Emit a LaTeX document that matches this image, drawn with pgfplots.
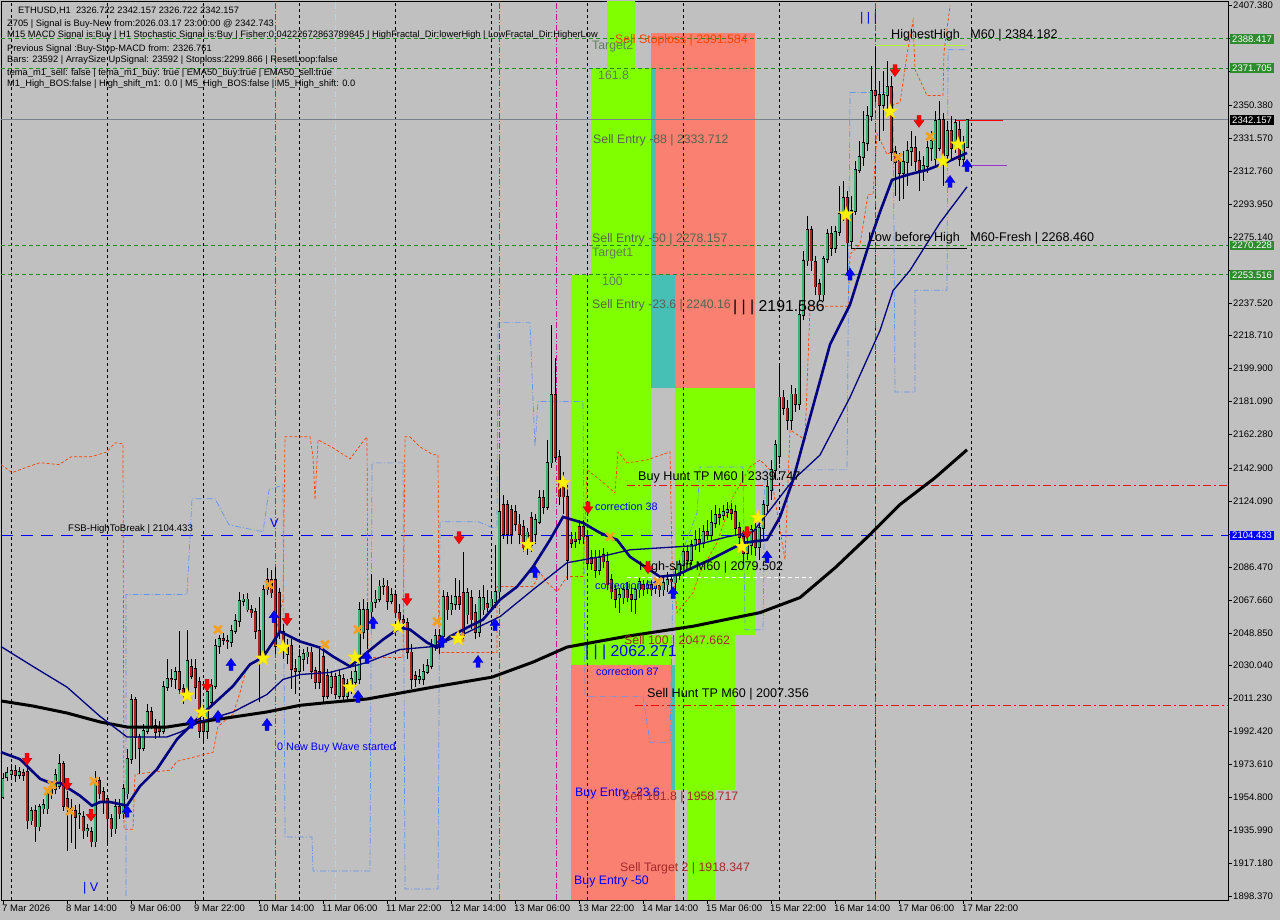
\documentclass[border=0pt]{standalone}
\usepackage{fontspec}
\setmainfont{Liberation Sans}
\usepackage{pgfplots}
\pgfplotsset{compat=1.18}
\usepackage{pgfplotstable}
\usetikzlibrary{plotmarks}

\definecolor{bg}{HTML}{C0C0C0}
\definecolor{lgreen}{HTML}{7FFF00}
\definecolor{salm}{HTML}{FA8072}
\definecolor{tealc}{HTML}{46BFB4}
\definecolor{bull}{HTML}{3CB371}
\definecolor{bear}{HTML}{B22222}
\definecolor{navyc}{HTML}{000080}
\definecolor{dgreen}{HTML}{1E8C1E}
\definecolor{boxgreen}{HTML}{2E8B2E}
\definecolor{orng}{HTML}{FF4500}
\definecolor{cblue}{HTML}{6495ED}
\definecolor{sellbrown}{HTML}{A52A2A}
\definecolor{entryc}{HTML}{55654F}
\definecolor{tgtc}{HTML}{627C5E}
\definecolor{magc}{HTML}{C71585}
\definecolor{purpc}{HTML}{9932CC}
\definecolor{pricegray}{HTML}{7A8290}
\definecolor{crossc}{HTML}{F5A020}
\definecolor{ltcyan}{HTML}{ADD8E6}
\definecolor{ygreen}{HTML}{ADFF2F}

\newcommand{\lab}{\fontsize{9.5}{10}\selectfont}
\newcommand{\fsbfont}{\fontsize{9.6}{11}\selectfont}
\newcommand{\corrfont}{\fontsize{10.8}{12}\selectfont}
\newcommand{\infofont}{\fontsize{9.3}{10}\selectfont}
\newcommand{\midfont}{\fontsize{12.3}{14}\selectfont}
\newcommand{\bigfont}{\fontsize{12.6}{14}\selectfont}
\newcommand{\hugefont}{\fontsize{15.8}{18}\selectfont}

\pgfdeclareplotmark{fstar}{%
 \pgfpathmoveto{\pgfqpoint{0pt}{8pt}}%
 \pgfpathlineto{\pgfqpoint{-1.9pt}{2.6pt}}%
 \pgfpathlineto{\pgfqpoint{-7.6pt}{2.5pt}}%
 \pgfpathlineto{\pgfqpoint{-3.05pt}{-1pt}}%
 \pgfpathlineto{\pgfqpoint{-4.7pt}{-6.5pt}}%
 \pgfpathlineto{\pgfqpoint{0pt}{-3.2pt}}%
 \pgfpathlineto{\pgfqpoint{4.7pt}{-6.5pt}}%
 \pgfpathlineto{\pgfqpoint{3.05pt}{-1pt}}%
 \pgfpathlineto{\pgfqpoint{7.6pt}{2.5pt}}%
 \pgfpathlineto{\pgfqpoint{1.9pt}{2.6pt}}%
 \pgfpathclose\pgfusepathqfillstroke}
\pgfdeclareplotmark{dnarr}{%
 \pgfpathmoveto{\pgfqpoint{-2pt}{6pt}}%
 \pgfpathlineto{\pgfqpoint{2pt}{6pt}}%
 \pgfpathlineto{\pgfqpoint{2pt}{1pt}}%
 \pgfpathlineto{\pgfqpoint{5pt}{1pt}}%
 \pgfpathlineto{\pgfqpoint{0pt}{-6pt}}%
 \pgfpathlineto{\pgfqpoint{-5pt}{1pt}}%
 \pgfpathlineto{\pgfqpoint{-2pt}{1pt}}%
 \pgfpathclose\pgfusepathqfillstroke}
\pgfdeclareplotmark{uparr}{%
 \pgfpathmoveto{\pgfqpoint{-2pt}{-6pt}}%
 \pgfpathlineto{\pgfqpoint{2pt}{-6pt}}%
 \pgfpathlineto{\pgfqpoint{2pt}{-1pt}}%
 \pgfpathlineto{\pgfqpoint{5pt}{-1pt}}%
 \pgfpathlineto{\pgfqpoint{0pt}{6pt}}%
 \pgfpathlineto{\pgfqpoint{-5pt}{-1pt}}%
 \pgfpathlineto{\pgfqpoint{-2pt}{-1pt}}%
 \pgfpathclose\pgfusepathqfillstroke}

\pgfplotstableread{
k o h l c
0 1955.1 1968.8 1954.0 1965.4
1 1966.5 1972.2 1964.3 1968.8
2 1968.2 1974.0 1965.4 1970.0
3 1970.0 1973.4 1963.7 1967.6
4 1967.6 1972.2 1965.4 1969.4
5 1968.8 1971.1 1964.3 1967.6
6 1969.4 1972.2 1936.9 1941.5
7 1941.5 1949.4 1939.2 1947.2
8 1947.2 1950.6 1929.5 1938.0
9 1938.0 1951.2 1935.8 1949.4
10 1948.3 1954.0 1945.5 1950.6
11 1948.3 1959.7 1945.5 1956.9
12 1956.9 1962.0 1954.0 1959.7
13 1959.7 1971.1 1956.9 1967.6
14 1961.4 1979.6 1959.7 1974.0
15 1974.0 1975.7 1947.2 1950.0
16 1954.0 1958.6 1924.3 1948.3
17 1948.3 1954.0 1928.4 1947.2
18 1947.2 1950.6 1925.5 1943.7
19 1944.9 1951.2 1936.9 1945.5
20 1943.7 1947.2 1931.2 1935.8
21 1935.8 1939.8 1932.3 1936.9
22 1935.2 1938.0 1926.6 1929.5
23 1929.5 1970.0 1926.6 1964.3
24 1964.3 1966.5 1954.0 1956.9
25 1958.0 1960.8 1945.5 1952.3
26 1954.0 1956.3 1928.4 1942.6
27 1942.6 1945.5 1932.3 1936.9
28 1936.9 1954.0 1934.1 1949.4
29 1949.4 1954.0 1942.6 1945.5
30 1945.5 1962.6 1942.6 1959.7
31 1956.9 1982.5 1954.0 1976.8
32 1976.8 2013.9 1974.0 2010.4
33 2010.4 2012.1 1976.8 1989.3
34 1989.3 1991.0 1968.2 1983.1
35 1983.1 1996.8 1981.4 1992.8
36 1992.8 2008.2 1991.0 2003.6
37 2003.6 2006.4 1993.9 1995.6
38 1995.6 1999.6 1988.2 1992.2
39 1995.0 1998.5 1989.3 1992.8
40 1992.8 2021.3 1991.0 2017.8
41 2017.8 2033.8 2015.6 2022.4
42 2022.4 2028.1 2017.8 2022.1
43 2022.4 2029.2 2016.7 2026.4
44 2026.4 2050.0 2013.9 2016.7
45 2016.7 2019.6 2008.2 2013.9
46 2015.6 2050.6 2011.0 2032.7
47 2029.2 2033.8 2022.4 2024.1
48 2028.1 2033.8 2011.0 2017.8
49 2020.7 2023.5 1988.8 1992.8
50 1997.9 2000.7 1985.4 1992.8
51 1992.8 2016.7 1988.2 2015.0
52 2009.3 2022.4 2006.4 2018.4
53 2018.4 2045.2 2016.7 2041.2
54 2041.2 2047.5 2036.6 2045.2
55 2045.2 2048.6 2041.8 2044.6
56 2044.1 2047.5 2039.5 2043.8
57 2043.5 2053.2 2040.7 2049.8
58 2049.8 2059.5 2048.1 2055.5
59 2055.5 2071.9 2052.1 2066.9
60 2066.9 2070.9 2064.0 2068.0
61 2062.1 2071.4 2061.0 2068.0
62 2062.1 2065.0 2057.6 2060.4
63 2061.0 2063.2 2045.2 2049.8
64 2049.8 2069.5 2009.3 2035.3
65 2035.3 2076.4 2033.6 2073.5
66 2073.5 2086.0 2070.7 2079.2
67 2079.2 2084.9 2069.0 2071.8
68 2079.2 2086.6 2036.6 2041.2
69 2071.8 2074.6 2045.2 2049.2
70 2049.2 2053.8 2033.6 2039.5
71 2036.6 2045.2 2030.8 2041.2
72 2041.2 2045.2 2016.7 2028.1
73 2028.1 2033.8 2013.9 2026.9
74 2026.9 2039.5 2022.4 2035.3
75 2033.8 2039.5 2026.9 2036.6
76 2035.3 2040.7 2030.8 2037.6
77 2037.6 2040.7 2022.4 2026.9
78 2026.9 2029.2 2016.7 2020.7
79 2026.4 2039.5 2016.7 2020.7
80 2035.3 2038.4 2008.2 2012.5
81 2024.1 2028.1 2011.0 2012.5
82 2017.8 2026.9 2013.9 2023.5
83 2023.5 2025.8 2011.0 2013.9
84 2012.5 2028.1 2011.0 2024.1
85 2022.4 2025.2 2009.9 2012.5
86 2012.5 2022.4 2011.0 2019.6
87 2019.6 2026.9 2013.9 2022.4
88 2020.7 2030.8 2017.8 2026.4
89 2022.4 2066.3 2019.6 2062.1
90 2049.2 2068.0 2045.2 2062.1
91 2062.1 2066.3 2039.5 2050.9
92 2061.0 2082.3 2057.6 2066.3
93 2066.3 2073.5 2063.2 2068.0
94 2068.0 2079.2 2066.3 2075.4
95 2075.4 2080.3 2070.7 2076.0
96 2075.4 2079.2 2062.1 2066.9
97 2066.9 2074.6 2065.2 2070.7
98 2070.7 2073.5 2057.6 2060.4
99 2060.4 2065.2 2052.1 2056.4
100 2056.4 2059.3 2050.9 2054.7
101 2054.7 2057.6 2033.6 2037.6
102 2037.6 2042.4 2016.7 2022.4
103 2024.1 2026.9 2017.8 2022.4
104 2022.4 2028.1 2019.6 2023.5
105 2022.4 2030.8 2019.0 2026.4
106 2026.4 2033.8 2025.2 2029.8
107 2029.8 2045.2 2028.1 2040.7
108 2040.7 2050.9 2038.4 2046.9
109 2046.9 2050.9 2036.6 2040.7
110 2046.9 2073.5 2044.1 2069.5
111 2069.5 2072.4 2056.4 2062.1
112 2062.1 2070.7 2059.3 2065.2
113 2065.2 2080.3 2062.1 2069.5
114 2069.5 2079.2 2062.1 2065.2
115 2071.8 2095.2 2044.1 2046.9
116 2059.3 2074.6 2053.8 2071.8
117 2069.0 2073.5 2050.9 2056.4
118 2060.4 2065.2 2045.2 2049.2
119 2049.2 2073.5 2046.3 2069.0
120 2062.1 2076.4 2059.3 2069.0
121 2065.2 2073.5 2061.0 2063.2
122 2063.8 2072.4 2061.0 2068.0
123 2066.3 2099.2 2063.2 2072.4
124 2072.4 2147.8 2069.0 2118.2
125 2122.2 2127.9 2102.2 2105.1
126 2122.2 2125.0 2099.4 2105.1
127 2119.3 2122.2 2099.4 2105.1
128 2118.2 2122.2 2106.8 2110.8
129 2110.8 2116.5 2099.4 2105.1
130 2109.6 2113.6 2095.2 2097.6
131 2098.1 2109.0 2093.5 2106.2
132 2114.7 2118.2 2095.2 2099.2
133 2105.1 2116.5 2099.4 2113.6
134 2112.3 2130.5 2110.8 2126.1
135 2126.1 2130.5 2116.5 2120.5
136 2120.5 2159.0 2119.3 2146.1
137 2146.1 2224.6 2143.0 2184.7
138 2184.7 2205.7 2146.7 2149.5
139 2149.5 2153.3 2122.2 2126.7
140 2136.2 2140.8 2116.5 2126.7
141 2126.7 2133.4 2079.2 2090.6
142 2102.2 2106.6 2097.6 2100.3
143 2102.2 2106.6 2097.6 2101.5
144 2109.6 2113.6 2099.4 2102.2
145 2109.6 2113.6 2099.4 2103.9
146 2103.9 2107.7 2084.9 2088.9
147 2091.7 2096.3 2084.9 2088.9
148 2091.7 2096.3 2080.3 2084.9
149 2084.9 2096.3 2082.0 2091.7
150 2093.5 2097.4 2086.0 2089.5
151 2089.5 2095.2 2073.5 2076.4
152 2079.2 2082.3 2068.0 2072.4
153 2073.5 2076.4 2063.2 2068.0
154 2069.0 2074.6 2060.4 2070.7
155 2069.0 2076.4 2065.2 2073.5
156 2073.5 2078.1 2066.3 2069.0
157 2070.7 2074.6 2061.0 2068.0
158 2068.0 2076.4 2059.8 2073.5
159 2073.5 2080.3 2069.0 2078.1
160 2076.4 2079.2 2070.1 2073.5
161 2074.6 2079.2 2071.2 2076.4
162 2076.4 2079.2 2070.1 2073.5
163 2074.6 2079.2 2071.2 2075.8
164 2075.8 2079.2 2069.5 2073.5
165 2073.5 2081.5 2070.1 2077.5
166 2076.4 2083.8 2072.4 2079.2
167 2079.2 2082.6 2073.5 2078.1
168 2077.5 2086.0 2070.7 2082.0
169 2082.0 2090.6 2079.2 2087.7
170 2087.7 2097.4 2084.9 2095.2
171 2095.2 2099.2 2087.7 2090.6
172 2090.6 2102.0 2087.7 2099.2
173 2099.2 2107.7 2096.3 2102.0
174 2102.0 2108.8 2095.2 2100.3
175 2100.3 2110.6 2097.6 2106.6
176 2106.6 2113.4 2102.0 2104.9
177 2104.9 2119.1 2102.0 2111.7
178 2111.7 2122.0 2108.8 2116.3
179 2116.3 2120.2 2110.6 2115.1
180 2116.3 2122.0 2113.4 2118.0
181 2118.0 2123.7 2114.6 2119.1
182 2119.1 2123.1 2113.4 2117.4
183 2118.0 2122.0 2104.9 2108.8
184 2108.8 2112.3 2097.6 2103.7
185 2103.7 2107.7 2087.7 2094.6
186 2094.6 2103.1 2090.6 2099.2
187 2099.2 2110.6 2093.5 2107.7
188 2107.7 2113.4 2092.9 2098.0
189 2098.0 2113.4 2090.6 2108.8
190 2108.8 2124.8 2102.0 2121.9
191 2121.9 2136.2 2117.9 2132.2
192 2130.5 2147.6 2124.8 2141.9
193 2141.9 2159.0 2136.2 2156.2
194 2150.0 2201.8 2145.3 2183.5
195 2183.5 2187.5 2173.2 2177.2
196 2177.2 2181.8 2164.7 2170.4
197 2170.4 2190.4 2164.7 2185.2
198 2185.2 2188.6 2175.0 2179.5
199 2179.5 2236.1 2176.1 2230.4
200 2230.4 2267.3 2227.6 2261.6
201 2261.6 2287.2 2258.8 2279.3
202 2279.3 2281.5 2255.9 2261.6
203 2261.1 2264.5 2241.7 2246.8
204 2248.5 2251.3 2238.8 2242.2
205 2242.2 2264.5 2238.8 2262.7
206 2262.7 2279.8 2260.5 2277.0
207 2277.0 2281.5 2264.5 2269.0
208 2269.0 2281.5 2266.2 2278.1
209 2278.1 2304.4 2275.9 2288.4
210 2288.4 2307.2 2284.4 2297.5
211 2297.5 2301.5 2253.1 2271.9
212 2273.0 2298.6 2268.4 2290.1
213 2290.1 2318.6 2288.0 2313.5
214 2313.5 2330.0 2311.8 2320.9
215 2320.9 2347.1 2315.7 2328.9
216 2328.9 2350.0 2324.3 2344.3
217 2344.3 2372.8 2341.4 2358.5
218 2358.5 2384.2 2352.8 2356.2
219 2356.2 2364.2 2330.0 2350.5
220 2350.5 2369.9 2335.7 2356.2
221 2356.2 2375.6 2347.1 2360.8
222 2360.8 2367.0 2318.6 2323.7
223 2323.7 2327.2 2298.7 2318.0
224 2318.6 2323.2 2295.8 2311.8
225 2311.8 2324.3 2296.9 2318.0
226 2318.0 2330.0 2304.4 2324.3
227 2324.3 2335.7 2315.7 2326.0
228 2326.0 2332.9 2312.9 2318.6
229 2318.6 2324.3 2301.5 2313.5
230 2313.5 2321.4 2307.2 2315.7
231 2315.7 2330.0 2311.8 2326.0
232 2326.0 2335.7 2318.6 2330.0
233 2319.7 2347.1 2315.7 2341.4
234 2326.0 2352.8 2324.3 2342.0
235 2342.0 2346.0 2304.4 2322.0
236 2322.0 2341.4 2318.6 2335.7
237 2335.7 2344.3 2318.6 2326.0
238 2326.0 2342.5 2323.2 2340.3
239 2336.3 2341.4 2315.7 2319.7
240 2319.7 2332.9 2315.7 2328.9
241 2326.7 2342.2 2326.7 2342.2
}\candles

\begin{document}
\begin{tikzpicture}
\useasboundingbox (0,0) rectangle (1280pt,920pt);
\fill[bg] (0,0) rectangle (1280pt,920pt);
\begin{axis}[
  at={(1pt,20pt)}, anchor=south west, scale only axis,
  width=1227pt, height=899pt,
  xmin=-0.5, xmax=306.25, ymin=1896.1, ymax=2410.07,
  clip=false,
  axis background/.style={fill=bg},
  axis line style={black, line width=0.8pt},
  tick align=outside, major tick length=4pt,
  tick style={black, line width=0.6pt},
  xtick pos=left, xticklabel pos=left,
  ytick pos=right, yticklabel pos=right,
  xtick={0,16,32,48,64,80,96,112,128,144,160,176,192,208,224,240},
  xticklabels={7 Mar 2026,8 Mar 14:00,9 Mar 06:00,9 Mar 22:00,10 Mar 14:00,11 Mar 06:00,11 Mar 22:00,12 Mar 14:00,13 Mar 06:00,13 Mar 22:00,14 Mar 14:00,15 Mar 06:00,15 Mar 22:00,16 Mar 14:00,17 Mar 06:00,17 Mar 22:00},
  xticklabel style={font=\lab, anchor=north west, xshift=-1pt, inner xsep=0pt, inner ysep=1pt},
  ytick={2407.38,2388.57,2369.76,2350.38,2331.57,2312.76,2293.95,2275.14,2256.33,2237.52,2218.71,2199.90,2181.09,2162.28,2142.90,2124.09,2105.28,2086.47,2067.66,2048.85,2030.04,2011.23,1992.42,1973.61,1954.80,1935.99,1917.18,1898.37},
  yticklabels={2407.380,,,2350.380,2331.570,2312.760,2293.950,2275.140,,2237.520,2218.710,2199.900,2181.090,2162.280,2142.900,2124.090,,2086.470,2067.660,2048.850,2030.040,2011.230,1992.420,1973.610,1954.800,1935.990,1917.180,1898.370},
  yticklabel style={font=\lab, anchor=west, xshift=0pt, inner xsep=1pt},
]
% zones
\addplot[fill=lgreen, draw=none, forget plot] coordinates {(151,2410.07)(158,2410.07)(158,2371.705)(151,2371.705)};
\addplot[fill=lgreen, draw=none, forget plot] coordinates {(147,2371.705)(162,2371.705)(162,2253.516)(147,2253.516)};
\addplot[fill=lgreen, draw=none, forget plot] coordinates {(142,2253.516)(162,2253.516)(162,2047.662)(142,2047.662)};
\addplot[fill=lgreen, draw=none, forget plot] coordinates {(142,2047.662)(167,2047.662)(167,2030.3)(142,2030.3)};
\addplot[fill=salm, draw=none, forget plot] coordinates {(162,2391.584)(188,2391.584)(188,2371.705)(162,2371.705)};
\addplot[fill=salm, draw=none, forget plot] coordinates {(163.25,2371.705)(188,2371.705)(188,2253.516)(163.25,2253.516)};
\addplot[fill=tealc, draw=none, forget plot] coordinates {(162,2371.705)(163.25,2371.705)(163.25,2253.516)(162,2253.516)};
\addplot[fill=tealc, draw=none, forget plot] coordinates {(162,2253.516)(168,2253.516)(168,2188.8)(162,2188.8)};
\addplot[fill=salm, draw=none, forget plot] coordinates {(168,2253.516)(188,2253.516)(188,2188.8)(168,2188.8)};
\addplot[fill=lgreen, draw=none, forget plot] coordinates {(168,2188.8)(188,2188.8)(188,2047.662)(168,2047.662)};
\addplot[fill=lgreen, draw=none, forget plot] coordinates {(168,2047.662)(183,2047.662)(183,1958.717)(168,1958.717)};
\addplot[fill=tealc, draw=none, forget plot] coordinates {(167,2030.3)(168,2030.3)(168,1958.717)(167,1958.717)};
\addplot[fill=lgreen, draw=none, forget plot] coordinates {(171,1958.717)(178,1958.717)(178,1896.1)(171,1896.1)};
\addplot[fill=salm, draw=none, forget plot] coordinates {(142,2030.3)(167,2030.3)(167,1958.717)(142,1958.717)};
\addplot[fill=salm, draw=none, forget plot] coordinates {(142,1958.717)(168,1958.717)(168,1896.1)(142,1896.1)};

% vertical separators
\pgfplotsinvokeforeach{2,26,50,74,98,122,146,170,194,218,242}{
  \addplot[black, line width=0.7pt, dash pattern=on 3pt off 3pt, forget plot] coordinates {(#1,1896.1)(#1,2410.07)};
}
\pgfplotsinvokeforeach{68,124,138.25,218}{
  \addplot[magc, line width=0.7pt, dash pattern=on 6pt off 2pt on 1pt off 2pt, forget plot] coordinates {(#1,1896.1)(#1,2410.07)};
}
\addplot[ltcyan, line width=0.7pt, dash pattern=on 6pt off 2pt on 1pt off 2pt, forget plot] coordinates {(83,1896.1)(83,2410.07)};

% horizontal levels
\pgfplotsinvokeforeach{2388.417,2371.705,2270.228,2253.516}{
  \addplot[dgreen, line width=0.8pt, dash pattern=on 4pt off 3pt, forget plot] coordinates {(-0.5,#1)(306.25,#1)};
}
\addplot[pricegray, line width=0.8pt, forget plot] coordinates {(-0.5,2342.157)(306.25,2342.157)};
\addplot[blue, line width=1pt, dash pattern=on 12pt off 8pt, forget plot] coordinates {(-0.5,2104.433)(306.25,2104.433)};
\addplot[red, line width=0.8pt, dash pattern=on 8pt off 3pt on 2pt off 3pt, forget plot] coordinates {(156,2132.9)(306.25,2132.9)};
\addplot[red, line width=0.8pt, dash pattern=on 8pt off 3pt on 2pt off 3pt, forget plot] coordinates {(158,2007.356)(306.25,2007.356)};
\addplot[white, line width=0.8pt, dash pattern=on 4pt off 3pt, forget plot] coordinates {(156,2080.4)(202.25,2080.4)};
\addplot[black, line width=0.8pt, forget plot] coordinates {(212,2268.46)(241,2268.46)};
\addplot[ygreen, line width=0.8pt, forget plot] coordinates {(218,2384.5)(241,2384.5)};
\addplot[red, line width=0.8pt, forget plot] coordinates {(238,2341.8)(250,2341.8)};
\addplot[purpc, line width=0.8pt, forget plot] coordinates {(239.75,2316.1)(251,2316.1)};

% orange dashed trailing line
\addplot[orng, line width=0.7pt, dash pattern=on 3pt off 2pt, forget plot] coordinates {
(-0.5,2145.0)(2.25,2140.4)(6.25,2143.8)(9.25,2146.1)(14,2145.0)(17,2149.5)(22,2149.5)(26,2152.3)(28,2157.5)(30,2156.9)
(30.25,1936.6)(32.5,1936.6)(33,1968.0)(41.75,1970.3)(43.5,1975.4)(52.5,1980.5)(53.75,1995.4)(57.5,2002.2)(59.25,2014.8)
(61,2029.6)(62.5,2030.8)(67.5,2042.2)(70,2067.8)(70.5,2160.9)(76.75,2160.9)(77.5,2149.5)(78,2124.9)(78.75,2159.2)
(82.5,2154.6)(86.75,2148.3)(89.75,2157.4)(91,2160.9)(91.25,2034.7)(100,2034.7)(100.5,2160.9)(101.75,2160.9)
(104.25,2155.2)(107.5,2150.6)(108.75,2150.6)(109,2037.6)(123.5,2037.6)(123.5,2075.3)(132.5,2075.3)(134.25,2083.3)
(136,2077.6)(138.5,2072.4)(141,2081.0)(145,2081.0)(146,2142.0)(149.25,2136.3)(153,2128.9)(153.75,2152.3)(156,2146.0)
(161,2147.7)(166.75,2152.3)(167.25,2090.7)(168.5,2060.4)(172.5,2071.8)(174.25,2083.3)(178.5,2100.4)(182.5,2126.6)
(186.75,2143.7)(189.25,2147.7)(191.75,2142.0)(193,2124.9)(195.5,2090.7)(196.75,2164.9)(200.5,2159.2)(201.75,2235.6)
(211.25,2235.6)(211.75,2265.3)(214.25,2270.9)(216.25,2299.5)(217.5,2299.5)(218.5,2334.3)(221,2322.3)(222.25,2324.1)
(222.5,2350.9)(224.25,2352.0)(226,2379.4)(227.5,2398.8)(228,2370.9)(231,2356.0)(235,2356.0)(235.25,2381.1)(236.75,2407.4)
};
% blue dash-dot trailing line
\addplot[cblue, line width=0.7pt, dash pattern=on 6pt off 2pt on 1pt off 2pt, forget plot] coordinates {
(30.75,1898.4)(30.75,2070.7)(46,2070.7)(47.25,2125.5)(53,2125.5)(56.5,2110.6)(65,2106.6)(66.5,2130.6)(70,2133.4)
(70.5,1932.1)(77.25,1932.1)(77.5,1912.7)(91.75,1912.7)(92.25,2146.0)(100,2146.0)(100.5,1902.4)(108.75,1902.4)
(109.25,2112.4)(118.75,2112.4)(122.25,2109.1)(123.5,2109.1)(123.75,2226.2)(131.75,2226.2)(132.5,2182.2)(133,2155.4)
(133.75,2181.1)(145,2181.1)(145.5,2012.5)(160,2012.5)(161.75,1986.3)(166.75,1986.3)(167.5,2080.9)(173.5,2117.4)
(174.25,2143.7)(185,2143.7)(185.5,2050.6)(190,2050.6)(190.5,2142.0)(211,2142.0)(211.75,2357.7)(222.5,2357.7)
(223,2186.5)(228,2186.5)(228,2244.7)(236,2244.7)(236.25,2382.2)(241,2382.2)
};

% candles
\addplot[black, line width=0.8pt, mark=none, forget plot, quiver={u=0, v=\thisrow{h}-\thisrow{l}}] table[x=k, y=l] {\candles};
\addplot[black, line width=3pt, mark=none, forget plot, quiver={u=0, v={abs(\thisrow{c}-\thisrow{o})+0.9}}] table[x=k, y expr={min(\thisrow{o},\thisrow{c})-0.45}] {\candles};
\addplot[bull, line width=1.8pt, mark=none, forget plot, quiver={u=0, v={max(\thisrow{c}-\thisrow{o},0)}}] table[x=k, y=o] {\candles};
\addplot[bear, line width=1.8pt, mark=none, forget plot, quiver={u=0, v={max(\thisrow{o}-\thisrow{c},0)}}] table[x=k, y=c] {\candles};

% moving averages
\addplot[black, line width=3pt, mark=none, forget plot] coordinates {
(-0.5,2009.9)(7.5,2007.0)(16,2003.0)(24.25,1997.9)(31,1995.0)(41,1995.0)(49.25,1997.9)(57.5,2000.7)(66,2003.6)
(74.25,2007.4)(81.75,2009.1)(91,2011.0)(107.5,2017.8)(122.25,2023.5)(132.5,2032.1)(141,2040.7)(156,2046.9)
(172.5,2052.6)(189.25,2060.4)(199.25,2069.0)(208,2086.0)(216.75,2105.0)(224.25,2122.2)(233,2137.5)(241,2153.5)};
\addplot[navyc, line width=1.3pt, mark=none, forget plot] coordinates {
(-0.5,2041.0)(7.5,2029.6)(16,2017.8)(24.25,2001.1)(31,1989.3)(41,1989.3)(44.25,1992.0)(49.25,1997.9)(57.5,2003.6)
(66,2013.6)(70,2022.2)(74.25,2025.0)(81.75,2026.2)(91,2031.9)(99.25,2039.3)(107.5,2041.0)(116,2049.0)(124.25,2058.1)
(132.5,2073.5)(141,2088.9)(149.25,2092.3)(156.75,2096.3)(172.5,2098.6)(181,2103.7)(187.5,2106.6)(191.75,2119.1)
(197.5,2136.2)(204.25,2150.5)(211.75,2183.5)(219.25,2221.7)(222.5,2244.5)(226.75,2256.1)(234.25,2283.3)(241,2303.8)};
\addplot[navyc, line width=2.6pt, mark=none, forget plot] coordinates {
(-0.5,1980.6)(4.25,1976.6)(9.25,1965.4)(11.75,1963.1)(14.25,1963.1)(19.25,1955.7)(22.25,1950.0)(24.25,1952.1)
(26.75,1952.1)(31,1950.0)(34.25,1961.2)(38.5,1970.9)(43.5,1988.0)(49.25,2001.1)(57.5,2018.4)(61.75,2030.8)(65,2034.9)
(69.25,2049.6)(74.25,2043.9)(79.25,2040.4)(82.5,2035.3)(86.75,2029.6)(91,2037.6)(95,2045.0)(99.25,2051.8)(101.75,2050.7)
(106,2043.3)(108.5,2040.4)(111.75,2046.7)(116,2051.8)(120,2056.4)(124.25,2067.8)(128.5,2075.2)(132.5,2086.6)
(136.75,2102.0)(140,2115.1)(145,2111.7)(149.25,2106.0)(153.5,2102.0)(156.75,2092.3)(164.25,2080.9)(168.5,2082.0)
(176.75,2090.6)(185,2100.3)(191,2102.0)(194.25,2115.1)(197.5,2136.2)(201.75,2172.1)(206.75,2213.7)(211.75,2236.5)
(216.75,2273.0)(219.25,2289.5)(222.25,2307.8)(226,2310.6)(231,2313.5)(236,2318.0)(241,2323.2)};

% signal markers
\addplot[only marks, mark=x, mark size=5.5pt, mark options={crossc, line width=2.6pt}, forget plot] coordinates {
(11.25,1958.3)(12.25,1962.0)(16.75,1946.9)(22.75,1964.0)(53.75,2050.7)(66.5,2076.4)(80.5,2042.2)(88.75,2050.7)
(108.5,2055.3)(114.25,2046.2)(151.75,2103.8)(163.75,2078.1)(223.75,2320.6)(231.75,2332.6)};
\addplot[only marks, mark=fstar, mark options={fill=yellow, draw=yellow!75!orange, line width=0.3pt}, forget plot] coordinates {
(46,2013.1)(49.75,2003.4)(65,2034.2)(70,2040.5)(88,2034.8)(86.75,2017.7)(98.75,2052.4)(113.75,2045.6)(131.25,2099.2)
(140,2134.6)(184.75,2098.1)(188.75,2114.6)(210.75,2288.1)(221.75,2346.9)(235,2318.4)(238.75,2328.1)};
\addplot[only marks, mark=dnarr, mark options={fill=red, draw=red!70!black, line width=0.3pt}, forget plot] coordinates {
(6,1976.6)(16,1962.3)(22,1944.6)(51,2018.8)(71,2056.4)(101,2067.8)(114,2103.2)(146.25,2120.3)(161.25,2086.1)
(186,2106.1)(223,2370.3)(229,2341.2)};
\addplot[only marks, mark=uparr, mark options={fill=blue, draw=blue!70!black, line width=0.3pt}, forget plot] coordinates {
(31,1946.9)(47,1997.7)(53.75,2001.1)(57,2030.8)(66,1996.5)(67.75,2058.1)(88.75,2012.5)(91,2034.8)(92.5,2054.7)
(109.75,2043.9)(118.75,2032.5)(123,2053.6)(133,2083.8)(167.5,2071.8)(191,2092.4)(211.75,2253.9)(236.75,2306.9)(241,2316.1)};

% info text
\node[anchor=west, inner sep=0pt, font=\infofont] at (axis cs:3.75,2404.5) {ETHUSD,H1\ \ 2326.722 2342.157 2326.722 2342.157};
\node[anchor=west, inner sep=0pt, font=\infofont] at (axis cs:1,2397.1) {Z705 | Signal is Buy-New from:2026.03.17 23:00:00 @ 2342.743};
\node[anchor=west, inner sep=0pt, font=\infofont] at (axis cs:1,2390.3) {M15 MACD Signal is:Buy | H1 Stochastic Signal is:Buy | Fisher:0.04222672863789845 | HighFractal\_Dir:lowerHigh | LowFractal\_Dir:HigherLow};
\node[anchor=west, inner sep=0pt, font=\infofont] at (axis cs:1,2382.8) {Previous Signal :Buy-Stop-MACD from: 2326.761};
\node[anchor=west, inner sep=0pt, font=\infofont] at (axis cs:1,2376.0) {Bars: 23592 | ArraySize UpSignal: 23592 | Stoploss:2299.866 | ResetLoop:false};
\node[anchor=west, inner sep=0pt, font=\infofont] at (axis cs:1,2369.1) {tema\_m1\_sell: false | tema\_m1\_buy: true | EMA50\_buy:true | EMA50\_sell:true};
\node[anchor=west, inner sep=0pt, font=\infofont] at (axis cs:1,2362.3) {M1\_High\_BOS:false | High\_shift\_m1: 0.0 | M5\_High\_BOS:false | M5\_High\_shift: 0.0};

% level labels
\node[anchor=west, inner sep=0pt, font=\midfont, text=orng] at (axis cs:153,2387.4) {Sell Stoploss | 2391.584};
\node[anchor=west, inner sep=0pt, font=\midfont, text=tgtc] at (axis cs:147.25,2384.0) {Target2};
\node[anchor=west, inner sep=0pt, font=\midfont, text=tgtc] at (axis cs:148.75,2367.4) {161.8};
\node[anchor=west, inner sep=0pt, font=\midfont, text=entryc] at (axis cs:147.5,2330.3) {Sell Entry -88 | 2333.712};
\node[anchor=west, inner sep=0pt, font=\midfont, text=entryc] at (axis cs:147.25,2273.9) {Sell Entry -50 | 2278.157};
\node[anchor=west, inner sep=0pt, font=\midfont, text=tgtc] at (axis cs:147.25,2265.9) {Target1};
\node[anchor=west, inner sep=0pt, font=\midfont, text=tgtc] at (axis cs:149.75,2249.9) {100};
\node[anchor=west, inner sep=0pt, font=\midfont, text=entryc] at (axis cs:147.25,2236.2) {Sell Entry -23.6 | 2240.16};
\node[anchor=west, inner sep=0pt, font=\hugefont, text=black] at (axis cs:182.5,2235.1) {| | | 2191.586};
\node[anchor=west, inner sep=0pt, font=\bigfont, text=black] at (axis cs:222,2390.3) {HighestHigh\ \ \ M60 | 2384.182};
\node[anchor=west, inner sep=0pt, font=\bigfont, text=black] at (axis cs:216.25,2274.4) {Low before High\ \ \ M60-Fresh | 2268.460};
\node[anchor=west, inner sep=0pt, font=\bigfont, text=black] at (axis cs:158.75,2138.0) {Buy Hunt TP M60 | 2339.747};
\node[anchor=west, inner sep=0pt, font=\corrfont, text=blue] at (axis cs:148,2120.9) {correction 38};
\node[anchor=west, inner sep=0pt, font=\fsbfont, text=black] at (axis cs:16.25,2108.4) {FSB-HighToBreak | 2104.433};
\node[anchor=west, inner sep=0pt, font=\bigfont, text=black] at (axis cs:159,2086.1) {High-shift M60 | 2079.502};
\node[anchor=west, inner sep=0pt, font=\corrfont, text=blue] at (axis cs:148,2075.8) {correction 61};
\node[anchor=west, inner sep=0pt, font=\midfont, text=sellbrown] at (axis cs:155.25,2043.9) {Sell 100 | 2047.662};
\node[anchor=west, inner sep=0pt, font=\hugefont, text=blue] at (axis cs:145.5,2037.6) {| | | 2062.271};
\node[anchor=west, inner sep=0pt, font=\corrfont, text=blue] at (axis cs:148.25,2026.8) {correction 87};
\node[anchor=west, inner sep=0pt, font=\bigfont, text=black] at (axis cs:161,2013.6) {Sell Hunt TP M60 | 2007.356};
\node[anchor=west, inner sep=0pt, font=\corrfont, text=blue] at (axis cs:68.5,1983.4) {0 New Buy Wave started};
\node[anchor=west, inner sep=0pt, font=\midfont, text=blue] at (axis cs:143,1957.2) {Buy Entry -23.6};
\node[anchor=west, inner sep=0pt, font=\midfont, text=sellbrown] at (axis cs:154.75,1954.9) {Sell 161.8 | 1958.717};
\node[anchor=west, inner sep=0pt, font=\midfont, text=sellbrown] at (axis cs:154.25,1914.4) {Sell Target 2 | 1918.347};
\node[anchor=west, inner sep=0pt, font=\midfont, text=blue] at (axis cs:142.75,1906.4) {Buy Entry -50};
\node[anchor=west, inner sep=0pt, font=\bigfont, text=blue] at (axis cs:20,1903.0) {| V};
\node[anchor=west, inner sep=0pt, font=\bigfont, text=blue] at (axis cs:66.75,2111.8) {V};
\node[anchor=west, inner sep=0pt, font=\bigfont, text=blue] at (axis cs:214.25,2400.0) {| | |};

% right price boxes
\node[anchor=west, xshift=1.5pt, inner xsep=2.5pt, inner ysep=1.5pt, fill=boxgreen, text=white, font=\lab] at (axis cs:306.25,2388.417) {2388.417};
\node[anchor=west, xshift=1.5pt, inner xsep=2.5pt, inner ysep=1.5pt, fill=boxgreen, text=white, font=\lab] at (axis cs:306.25,2371.705) {2371.705};
\node[anchor=west, xshift=1.5pt, inner xsep=2.5pt, inner ysep=1.5pt, fill=black, text=white, font=\lab] at (axis cs:306.25,2342.157) {2342.157};
\node[anchor=west, xshift=1.5pt, inner xsep=2.5pt, inner ysep=1.5pt, fill=boxgreen, text=white, font=\lab] at (axis cs:306.25,2270.228) {2270.228};
\node[anchor=west, xshift=1.5pt, inner xsep=2.5pt, inner ysep=1.5pt, fill=boxgreen, text=white, font=\lab] at (axis cs:306.25,2253.516) {2253.516};
\node[anchor=west, xshift=1.5pt, inner xsep=2.5pt, inner ysep=1.5pt, fill=blue, text=white, font=\lab] at (axis cs:306.25,2104.433) {2104.433};
\end{axis}
\end{tikzpicture}
\end{document}
